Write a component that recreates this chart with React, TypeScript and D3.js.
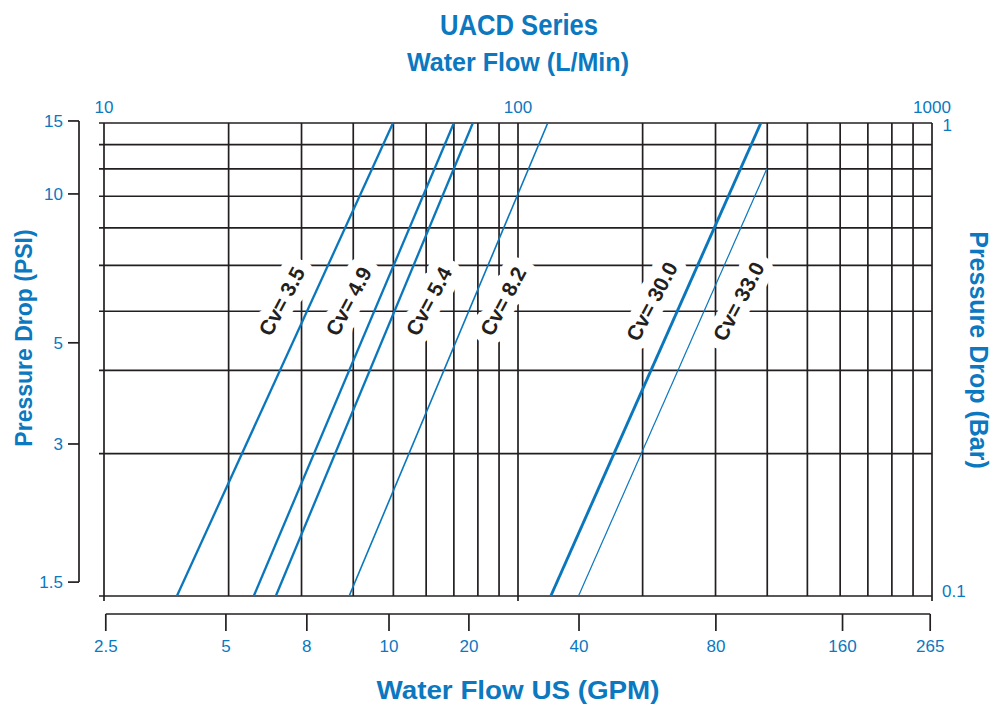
import React, { useEffect, useRef } from 'react';
import * as d3 from 'd3';

// Cv curves, read as straight segments on the log-log grid (L/min vs bar)
const cvValues = ['3.5', '4.9', '5.4', '8.2', '30.0', '33.0'];
const flowAtBottom = [15.0, 23.0, 26.0, 39.1, 120, 140];
const barAtBottom = [0.1, 0.1, 0.1, 0.1, 0.1, 0.1];
const flowAtTop = [49.9, 70.0, 77.8, 118, 386, 399];
const barAtTop = [1, 1, 1, 1, 1, 0.8];

// top (L/Min) and right (Bar) labels
const lpmLabels = [10, 100, 1000];
const barLabels = ['1', '0.1'];

// left PSI axis labels, and where they sit on the bar scale
const psiLabels = ['15', '10', '5', '3', '1.5'];
const psiAtBar = [1.01, 0.708, 0.343, 0.2096, 0.107];

// bottom GPM axis labels, and where they sit on the L/min scale
const gpmLabels = ['2.5', '5', '8', '10', '20', '40', '80', '160', '265'];
const gpmAtLpm = [10.1, 19.7, 30.9, 48.8, 76.1, 140.4, 300.6, 608, 990];

const W = 994;
const H = 706;
const BLUE = '#0b78bf';
const INK = '#231f20';
const FONT = "'Liberation Sans', Arial, Helvetica, sans-serif";

const lineWidths = [2.3, 2.3, 2.3, 1.6, 2.9, 1.2];
const labelSide = [-1, -1, 1, 1, -1, 1];

const App: React.FC = () => {
  const svgRef = useRef<SVGSVGElement>(null);

  useEffect(() => {
    if (!svgRef.current) return;
    const svg = d3.select(svgRef.current);
    svg.selectAll('*').remove();

    const left = 104;
    const right = 932;
    const top = 123;
    const bottom = 596;

    const x = d3.scaleLog().domain([10, 1000]).range([left, right]);
    const y = d3.scaleLog().domain([0.1, 1]).range([bottom, top]);

    // Grid
    const grid = svg.append('g').attr('stroke', INK).attr('stroke-width', 1.7);

    grid
      .selectAll('.h')
      .data(y.ticks())
      .join('line')
      .attr('x1', left - 5)
      .attr('x2', right)
      .attr('y1', (d) => y(d))
      .attr('y2', (d) => y(d));

    grid
      .selectAll('.v')
      .data(x.ticks())
      .join('line')
      .attr('x1', (d) => x(d))
      .attr('x2', (d) => x(d))
      .attr('y1', top)
      .attr('y2', (d) => (lpmLabels.includes(d) ? bottom + 5 : bottom));

    // Top labels (L/Min)
    svg
      .append('g')
      .selectAll('text')
      .data(lpmLabels)
      .join('text')
      .attr('x', (d) => x(d))
      .attr('y', 113)
      .attr('text-anchor', 'middle')
      .attr('fill', BLUE)
      .attr('font-family', FONT)
      .attr('font-size', 17)
      .text((d) => d);

    // Right labels (Bar)
    svg
      .append('text')
      .attr('x', right + 20)
      .attr('y', y(1) + 8)
      .attr('text-anchor', 'end')
      .attr('fill', BLUE)
      .attr('font-family', FONT)
      .attr('font-size', 17)
      .text(barLabels[0]);
    svg
      .append('text')
      .attr('x', right + 10)
      .attr('y', y(0.1) + 1)
      .attr('fill', BLUE)
      .attr('font-family', FONT)
      .attr('font-size', 17)
      .text(barLabels[1]);

    // Left PSI axis
    const psiAxis = svg.append('g');
    const psiTop = y(psiAtBar[0]);
    const psiBottom = y(psiAtBar[psiAtBar.length - 1]);
    psiAxis
      .append('line')
      .attr('x1', 79)
      .attr('x2', 79)
      .attr('y1', psiTop)
      .attr('y2', psiBottom)
      .attr('stroke', INK)
      .attr('stroke-width', 1.7);
    psiAxis
      .selectAll('.tick')
      .data(psiAtBar)
      .join('line')
      .attr('x1', 68)
      .attr('x2', 79)
      .attr('y1', (d) => y(d))
      .attr('y2', (d) => y(d))
      .attr('stroke', INK)
      .attr('stroke-width', 1.7);
    psiAxis
      .selectAll('text')
      .data(psiAtBar)
      .join('text')
      .attr('x', 63)
      .attr('y', (d) => y(d) + 6)
      .attr('text-anchor', 'end')
      .attr('fill', BLUE)
      .attr('font-family', FONT)
      .attr('font-size', 17)
      .text((_, i) => psiLabels[i]);

    // Bottom GPM axis
    const gpmAxis = svg.append('g');
    const axisY = 614;
    gpmAxis
      .append('line')
      .attr('x1', x(gpmAtLpm[0]))
      .attr('x2', x(gpmAtLpm[gpmAtLpm.length - 1]))
      .attr('y1', axisY)
      .attr('y2', axisY)
      .attr('stroke', INK)
      .attr('stroke-width', 1.7);
    gpmAxis
      .selectAll('.tick')
      .data(gpmAtLpm)
      .join('line')
      .attr('x1', (d) => x(d))
      .attr('x2', (d) => x(d))
      .attr('y1', axisY)
      .attr('y2', axisY + 17)
      .attr('stroke', INK)
      .attr('stroke-width', 1.7);
    gpmAxis
      .selectAll('text')
      .data(gpmAtLpm)
      .join('text')
      .attr('x', (d) => x(d))
      .attr('y', 652)
      .attr('text-anchor', 'middle')
      .attr('fill', BLUE)
      .attr('font-family', FONT)
      .attr('font-size', 17)
      .text((_, i) => gpmLabels[i]);

    // Cv labels with white halo that clears the grid
    const labelBar = 0.42;
    const labelPos = cvValues.map((_, i) => {
      const t =
        (Math.log(labelBar) - Math.log(barAtBottom[i])) /
        (Math.log(barAtTop[i]) - Math.log(barAtBottom[i]));
      const f = Math.exp(
        Math.log(flowAtBottom[i]) + t * (Math.log(flowAtTop[i]) - Math.log(flowAtBottom[i]))
      );
      return [x(f) + labelSide[i] * 30, y(labelBar)];
    });

    const labels = svg.append('g');
    ['halo', 'text'].forEach((layer) => {
      labels
        .append('g')
        .selectAll('text')
        .data(cvValues)
        .join('text')
        .attr('transform', (_, i) => `translate(${labelPos[i][0]},${labelPos[i][1]}) rotate(-62)`)
        .attr('text-anchor', 'middle')
        .attr('dy', '0.36em')
        .attr('font-family', FONT)
        .attr('font-weight', 'bold')
        .attr('font-size', 21)
        .attr('fill', layer === 'halo' ? '#fff' : INK)
        .attr('stroke', layer === 'halo' ? '#fff' : 'none')
        .attr('stroke-width', layer === 'halo' ? 20 : 0)
        .attr('stroke-linejoin', 'round')
        .text((d) => `Cv= ${d}`);
    });

    // Cv lines
    const line = d3
      .line<[number, number]>()
      .x((d) => x(d[0]))
      .y((d) => y(d[1]));

    svg
      .append('g')
      .selectAll('path')
      .data(cvValues.map((_, i) => [
        [flowAtBottom[i], barAtBottom[i]],
        [flowAtTop[i], barAtTop[i]],
      ] as [number, number][]))
      .join('path')
      .attr('d', (d) => line(d))
      .attr('fill', 'none')
      .attr('stroke', '#0a77bd')
      .attr('stroke-width', (_, i) => lineWidths[i]);

    // Titles
    const title = (
      text: string,
      tx: number,
      ty: number,
      size: number,
      rot = 0,
      fit = 0
    ) => {
      const t = svg
        .append('text')
        .attr('transform', `translate(${tx},${ty}) rotate(${rot})`)
        .attr('text-anchor', 'middle')
        .attr('fill', BLUE)
        .attr('font-family', FONT)
        .attr('font-weight', 'bold')
        .attr('font-size', size)
        .text(text);
      if (fit) t.attr('textLength', fit).attr('lengthAdjust', 'spacingAndGlyphs');
      return t;
    };

    title('UACD Series', 519, 35, 30, 0, 158);
    title('Water Flow (L/Min)', 518, 71, 25, 0, 222);
    title('Water Flow US (GPM)', 518, 699, 25, 0, 283);
    title('Pressure Drop (PSI)', 32, 338, 23, -90);
    title('Pressure Drop (Bar)', 970, 350, 25, 90);
  }, []);

  return (
    <svg
      ref={svgRef}
      width={W}
      height={H}
      style={{ position: 'absolute', left: 0, top: 0, background: '#fff' }}
    />
  );
};

export default App;
